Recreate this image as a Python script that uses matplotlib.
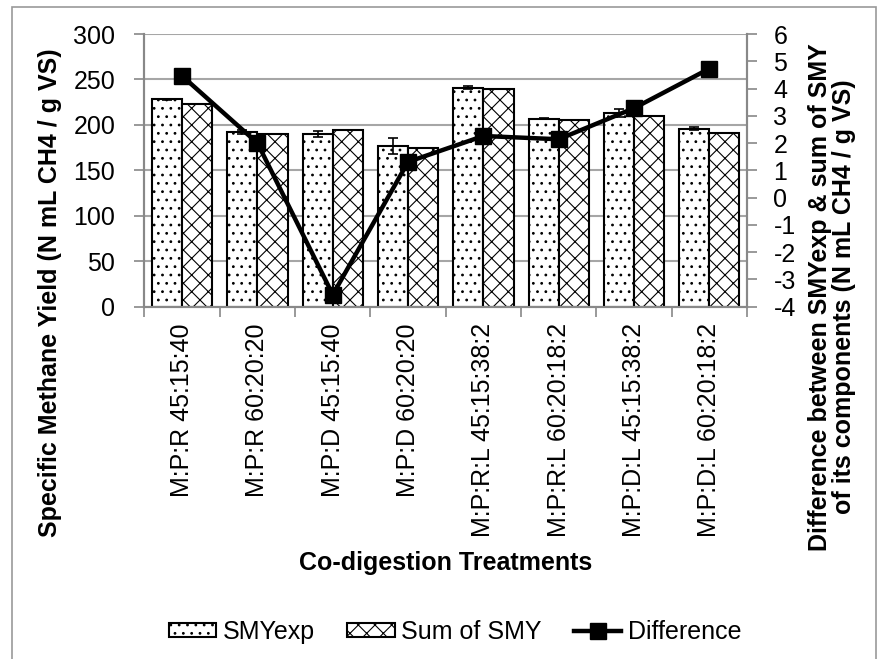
import matplotlib.pyplot as plt
import numpy as np

plt.rcParams['font.family'] = ['Liberation Sans', 'DejaVu Sans']
plt.rcParams['axes.unicode_minus'] = False
plt.rcParams['hatch.linewidth'] = 0.8

treatments = ['M:P:R 45:15:40', 'M:P:R 60:20:20', 'M:P:D 45:15:40', 'M:P:D 60:20:20',
              'M:P:R:L 45:15:38:2', 'M:P:R:L 60:20:18:2', 'M:P:D:L 45:15:38:2', 'M:P:D:L 60:20:18:2']
smy_exp = [228, 192, 190, 177, 241, 207, 213, 196]
smy_exp_err = [1, 2, 3, 9, 2, 1, 4, 2]
sum_smy = [223, 190, 194, 175, 239, 205, 210, 191]
difference = [4.46, 2.0, -3.56, 1.31, 2.26, 2.14, 3.28, 4.73]

W, H = 879, 659
fig = plt.figure(figsize=[W / 100, H / 100], dpi=100)
ax = fig.add_axes([144.5 / W, 1 - 306.7 / H, (747 - 144.5) / W, (306.7 - 34) / H])
ax2 = ax.twinx()

x = np.arange(len(treatments))
w = 0.4
ax.bar(x - w / 2, smy_exp, w, color='white', edgecolor='black', hatch='..', linewidth=1.5,
       label='SMYexp', zorder=2)
ax.errorbar(x - w / 2, smy_exp, yerr=smy_exp_err, fmt='none', ecolor='black', elinewidth=1.2,
            capsize=3.5, capthick=1.2, zorder=3)
ax.bar(x + w / 2, sum_smy, w, color='white', edgecolor='black', hatch='xx', linewidth=1.5,
       label='Sum of SMY', zorder=2)
ax2.plot(x, difference, color='black', linewidth=3.2, marker='s', markersize=12,
         label='Difference', zorder=4)

ax.set_xlim(-0.5, len(treatments) - 0.5)
ax.set_ylim(0, 300)
ax.set_yticks(range(0, 301, 50))
ax2.set_ylim(-4, 6)
ax2.set_yticks(range(-4, 7))

ax.set_xticks(x)
ax.set_xticklabels(treatments, rotation=90, fontsize=18)
ax.set_xticks(np.arange(-0.5, len(treatments), 1), minor=True)
ax.tick_params(axis='x', which='major', length=0, pad=12)
ax.tick_params(axis='x', which='minor', length=7, width=1.2, color='#888888')
ax.tick_params(axis='y', labelsize=18, length=7, width=1.2, color='#888888', pad=14)
ax2.tick_params(axis='y', labelsize=18, length=7, width=1.2, color='#888888', pad=12)

ax.grid(axis='y', color='#a6a6a6', linewidth=1.5, zorder=0)
ax.set_axisbelow(True)
for a in (ax, ax2):
    a.spines['top'].set_visible(False)
    for s in ('left', 'right', 'bottom'):
        a.spines[s].set_color('#888888')
        a.spines[s].set_linewidth(1.5)

fig.text(50 / W, 1 - 293 / H, 'Specific Methane Yield (N mL CH4 / g VS)', rotation=90,
         ha='center', va='center', fontsize=18, fontweight='bold')
fig.text(832 / W, 1 - 297 / H,
         'Difference between SMYexp & sum of SMY\nof its components (N mL CH4 / g VS)',
         rotation=90, ha='center', va='center', fontsize=18, fontweight='bold',
         multialignment='center', linespacing=1.0)
fig.text(446 / W, 1 - 563 / H, 'Co-digestion Treatments', ha='center', va='center',
         fontsize=18, fontweight='bold')

h1, l1 = ax.get_legend_handles_labels()
h2, l2 = ax2.get_legend_handles_labels()
fig.legend(h1 + h2, l1 + l2, loc='center', bbox_to_anchor=(455 / W, 1 - 632 / H), ncol=3,
           frameon=False, fontsize=18, handlelength=1.9, handleheight=0.5,
           handletextpad=0.25, columnspacing=1.3, borderpad=0)

fig.patches.append(plt.Rectangle((12 / W, -0.1), (876 - 12) / W, 1.1 - 7 / H,
                                 transform=fig.transFigure, fill=False,
                                 edgecolor='#999999', linewidth=1.2))

plt.savefig('out.png', dpi=100)
